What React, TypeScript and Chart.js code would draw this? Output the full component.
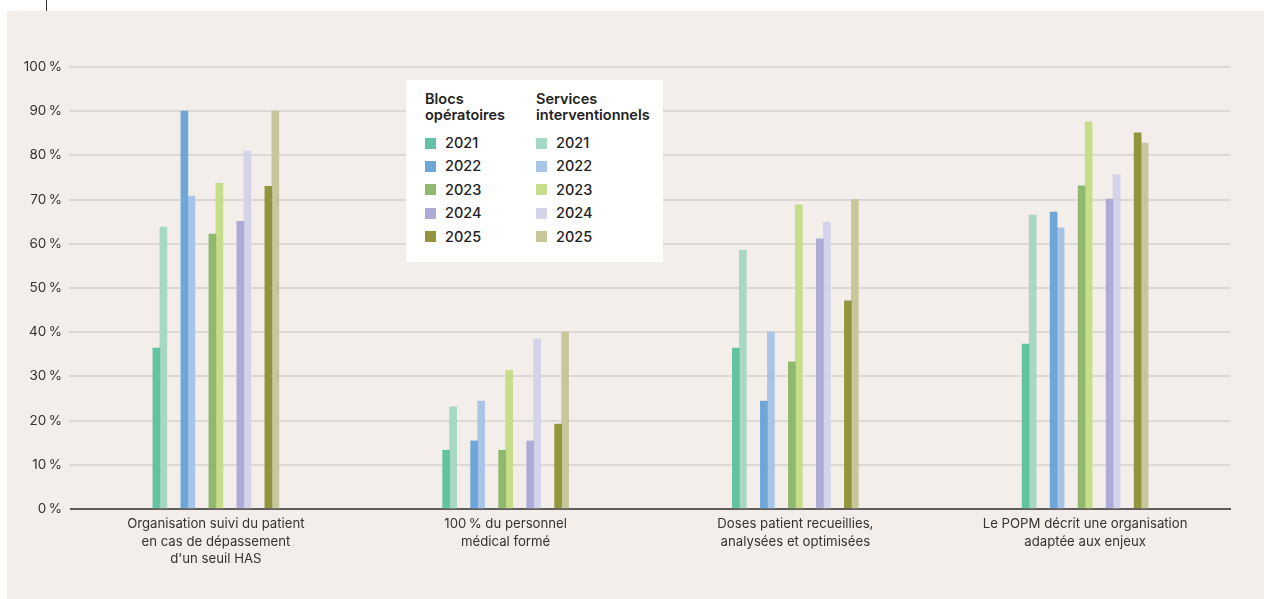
import React, { useEffect, useRef } from "react";
import { Chart, registerables } from "chart.js";

Chart.register(...registerables);

const categories: string[][] = [
  ["Organisation suivi du patient", "en cas de dépassement", "d'un seuil HAS"],
  ["100\u202f% du personnel", "médical formé"],
  ["Doses patient recueillies,", "analysées et optimisées"],
  ["Le POPM décrit une organisation", "adaptée aux enjeux"],
];

const years = ["2021", "2022", "2023", "2024", "2025"];

// Blocs opératoires
const blocs2021 = [36.4, 13.3, 36.4, 37.3];
const blocs2022 = [90.0, 15.4, 24.4, 67.2];
const blocs2023 = [62.2, 13.3, 33.3, 73.1];
const blocs2024 = [65.1, 15.4, 61.1, 70.1];
const blocs2025 = [73.0, 19.2, 47.1, 85.1];

// Services interventionnels
const services2021 = [63.8, 23.1, 58.6, 66.5];
const services2022 = [70.8, 24.4, 40.0, 63.6];
const services2023 = [73.7, 31.4, 68.8, 87.6];
const services2024 = [81.0, 38.5, 64.9, 75.6];
const services2025 = [90.0, 40.0, 70.0, 82.8];

const yTicks = [0, 10, 20, 30, 40, 50, 60, 70, 80, 90, 100];

const blocsColors = ["#62c3a3", "#6fa6d8", "#90b86e", "#aeabd6", "#93953e"];
const servicesColors = ["#a6d8c4", "#a8c5e8", "#c6dd8a", "#d3d3e9", "#c8c69b"];

const blocsSeries = [blocs2021, blocs2022, blocs2023, blocs2024, blocs2025];
const servicesSeries = [services2021, services2022, services2023, services2024, services2025];

const FONT = "Inter, 'Noto Sans', sans-serif";

export default function App() {
  const canvasRef = useRef<HTMLCanvasElement | null>(null);

  useEffect(() => {
    if (!canvasRef.current) return;
    const spacer = () => ({
      label: "",
      data: categories.map(() => null),
      backgroundColor: "rgba(0,0,0,0)",
    });
    const datasets: any[] = [];
    years.forEach((y, i) => {
      datasets.push(spacer());
      datasets.push({
        label: "Blocs opératoires " + y,
        data: blocsSeries[i],
        backgroundColor: blocsColors[i],
      });
      datasets.push({
        label: "Services interventionnels " + y,
        data: servicesSeries[i],
        backgroundColor: servicesColors[i],
      });
      datasets.push(spacer());
    });

    const chart = new Chart(canvasRef.current, {
      type: "bar",
      data: { labels: categories, datasets },
      options: {
        animation: false,
        responsive: false,
        maintainAspectRatio: false,
        layout: { padding: { top: 56, right: 34, left: 0, bottom: 0 } },
        datasets: {
          bar: { barThickness: 7, borderWidth: 0 },
        },
        plugins: {
          legend: { display: false },
          tooltip: { enabled: false },
        },
        scales: {
          x: {
            grid: { display: false, drawTicks: false },
            border: { display: true, color: "#5f5d5b", width: 2 },
            ticks: {
              color: "#333333",
              font: { family: FONT, size: 13.2, lineHeight: 1.29 },
              padding: 7,
              maxRotation: 0,
              autoSkip: false,
            },
            afterFit: (s: any) => {
              s.height = 90;
            },
          },
          y: {
            min: 0,
            max: 100,
            afterBuildTicks: (s: any) => {
              s.ticks = yTicks.map((v) => ({ value: v }));
            },
            grid: { color: "#dcd8d4", lineWidth: 2, drawTicks: true, tickLength: 2 },
            border: { display: false },
            ticks: {
              color: "#333333",
              font: { family: FONT, size: 13.5 },
              padding: 7,
              callback: (v: any) => v + "\u202f%",
            },
            afterFit: (s: any) => {
              s.width = 64;
            },
          },
        },
      },
    });
    return () => chart.destroy();
  }, []);

  const legendRow = (i: number, colLeft: number, color: string, text: string) => (
    <div
      key={colLeft + "-" + i}
      style={{
        position: "absolute",
        left: colLeft,
        top: 63 + i * 23.4 - 9,
        height: 18,
        display: "flex",
        alignItems: "center",
      }}
    >
      <div style={{ width: 11, height: 11, background: color, marginRight: 9 }} />
      <span style={{ fontSize: 14.5, fontWeight: 500, color: "#222", lineHeight: "18px" }}>{text}</span>
    </div>
  );

  return (
    <div style={{ position: "fixed", left: 0, top: 0, width: 1264, height: 599, background: "#ffffff", fontFamily: FONT }}>
      <div style={{ position: "absolute", left: 46, top: 0, width: 1, height: 26, background: "#333" }} />
      <div style={{ position: "absolute", left: 7, top: 11, width: 1257, height: 588, background: "#f3eeea" }}>
        <canvas ref={canvasRef} width={1257} height={588} style={{ display: "block" }} />
        <div
          style={{
            position: "absolute",
            left: 399,
            top: 69,
            width: 257,
            height: 182,
            background: "#ffffff",
          }}
        >
          <div style={{ position: "absolute", left: 19, top: 11, fontSize: 14.5, fontWeight: 600, color: "#222", lineHeight: "16px" }}>
            Blocs
            <br />
            opératoires
          </div>
          <div style={{ position: "absolute", left: 130, top: 11, fontSize: 14.5, fontWeight: 600, color: "#222", lineHeight: "16px" }}>
            Services
            <br />
            interventionnels
          </div>
          {years.map((y, i) => legendRow(i, 19, blocsColors[i], y))}
          {years.map((y, i) => legendRow(i, 130, servicesColors[i], y))}
        </div>
      </div>
    </div>
  );
}
